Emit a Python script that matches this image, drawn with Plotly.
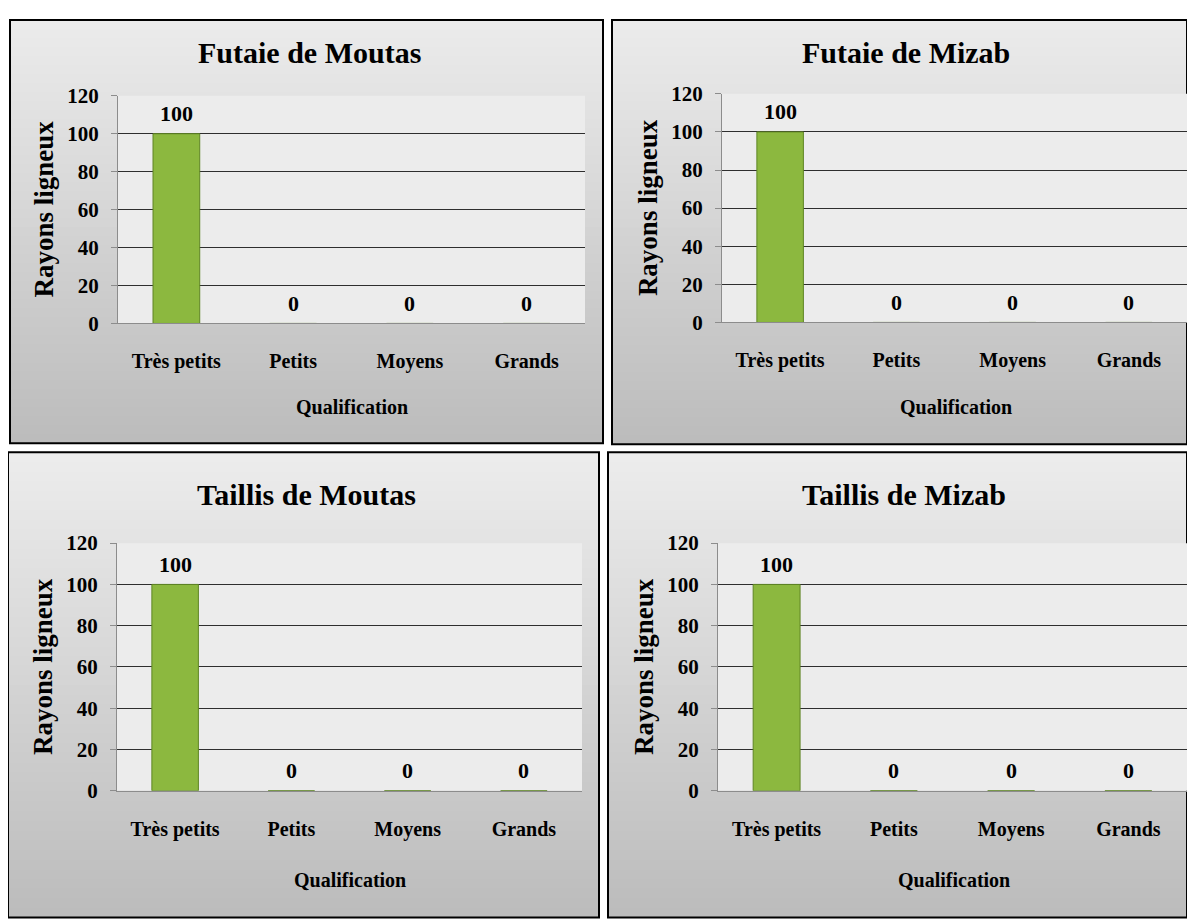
import plotly.graph_objects as go
import plotly.subplots as sp

# the page body adds an 8px margin; the photo also comes out slightly squeezed vertically,
# so target positions (in reference pixels) are mapped back through that
OFF = 8
SY, OY = 0.9756, 11.3
W, H = 1195 - 2 * OFF, 930

categories = ['Très petits', 'Petits', 'Moyens', 'Grands']
futaie_moutas = [100, 0, 0, 0]
futaie_mizab = [100, 0, 0, 0]
taillis_moutas = [100, 0, 0, 0]
taillis_mizab = [100, 0, 0, 0]
titles = ['Futaie de Moutas', 'Futaie de Mizab', 'Taillis de Moutas', 'Taillis de Mizab']
y_ticks = [0, 20, 40, 60, 80, 100, 120]
y_title = 'Rayons ligneux'
x_title = 'Qualification'

series = [futaie_moutas, futaie_mizab, taillis_moutas, taillis_mizab]

# pixel boxes (left, top, right, bottom) in the reference for the framed panel and its plot area
panels = [
    dict(box=(10, 10, 603, 443), plot=(118, 95, 585, 323), qual=407),
    dict(box=(612, 10, 1194, 444), plot=(722, 93, 1190, 322), qual=407),
    dict(box=(8, 452, 599, 918), plot=(117, 543, 582, 791), qual=880),
    dict(box=(608, 452, 1194, 918), plot=(718, 543, 1190, 791), qual=880),
]

FONT = 'Liberation Serif, Times New Roman, serif'


def px(x):
    return min(1, max(0, (x - OFF) / W))


def py(y):
    f = (y - OY) / SY - OFF
    return min(1, max(0, 1 - f / H))


def gradient_strips(box, top=236, bottom=188, n=48):
    l, t, r, b = box
    shapes = []
    step = (b - t) / n
    for k in range(n):
        g = round(top + (bottom - top) * k / (n - 1))
        shapes.append(dict(
            type='rect', xref='paper', yref='paper', layer='below',
            x0=px(l), x1=px(r), y0=py(t + k * step), y1=py(min(b, t + (k + 1) * step + 1)),
            fillcolor=f'rgb({g},{g},{g})', line=dict(width=0)))
    return shapes


fig = sp.make_subplots(rows=2, cols=2)

shapes = []
annotations = []
for i, (panel, vals) in enumerate(zip(panels, series)):
    n = i + 1
    row, col = i // 2 + 1, i % 2 + 1
    xa = 'x' if n == 1 else f'x{n}'
    ya = 'y' if n == 1 else f'y{n}'
    l, t, r, b = panel['plot']

    fig.add_trace(go.Bar(
        x=categories, y=vals, width=0.4,
        marker=dict(color='#8cb83f', line=dict(color='#5e8423', width=1)),
        showlegend=False, hoverinfo='x+y',
    ), row=row, col=col)

    fig.update_xaxes(
        domain=[px(l), px(r)], showline=True, linecolor='#8c8c8c', linewidth=1,
        ticks='', showgrid=False, zeroline=False, ticklabelstandoff=20,
        tickfont=dict(family=FONT, size=20, color='black', weight='bold'),
        row=row, col=col)
    fig.update_yaxes(
        domain=[py(b), py(t)], range=[0, 120], tickvals=y_ticks,
        showgrid=True, gridcolor='#2e2e2e', gridwidth=1, zeroline=False,
        showline=True, linecolor='#8c8c8c', linewidth=1,
        ticks='outside', ticklen=6, tickcolor='#8c8c8c', ticklabelstandoff=8,
        tickfont=dict(family=FONT, size=21, color='black', weight='bold'),
        row=row, col=col)

    shapes += gradient_strips(panel['box'])
    bl, bt, br, bb = panel['box']
    shapes.append(dict(type='rect', xref='paper', yref='paper', layer='below',
                       x0=px(bl), x1=px(br), y0=py(bb), y1=py(bt),
                       fillcolor='rgba(0,0,0,0)', line=dict(color='black', width=2)))
    shapes.append(dict(type='rect', xref=f'{xa} domain', yref=f'{ya} domain', layer='below',
                       x0=0, x1=1, y0=0, y1=1, fillcolor='#ececec', line=dict(width=0)))

    cx = px((bl + br) / 2 + 3)
    annotations.append(dict(text=titles[i], x=cx, y=py(bt + 42), xref='paper', yref='paper',
                            showarrow=False, xanchor='center', yanchor='middle',
                            font=dict(family=FONT, size=30, color='black', weight='bold')))
    annotations.append(dict(text=y_title, x=px(l - 74), y=py((t + b) / 2), xref='paper', yref='paper',
                            showarrow=False, textangle=-90, xanchor='center', yanchor='middle',
                            font=dict(family=FONT, size=27, color='black', weight='bold')))
    annotations.append(dict(text=x_title, x=px((l + r) / 2), y=py(panel['qual']), xref='paper', yref='paper',
                            showarrow=False, xanchor='center', yanchor='middle',
                            font=dict(family=FONT, size=20, color='black', weight='bold')))
    for cat, v in zip(categories, vals):
        annotations.append(dict(text=str(v), x=cat, y=v, xref=xa, yref=ya,
                                showarrow=False, yshift=20, yanchor='middle',
                                font=dict(family=FONT, size=22, color='black', weight='bold')))

fig.update_layout(
    width=W, height=H, margin=dict(l=0, r=0, t=0, b=0),
    paper_bgcolor='white', plot_bgcolor='rgba(0,0,0,0)',
    shapes=shapes, annotations=annotations, bargap=0.6,
)

fig.write_html("out.html")
